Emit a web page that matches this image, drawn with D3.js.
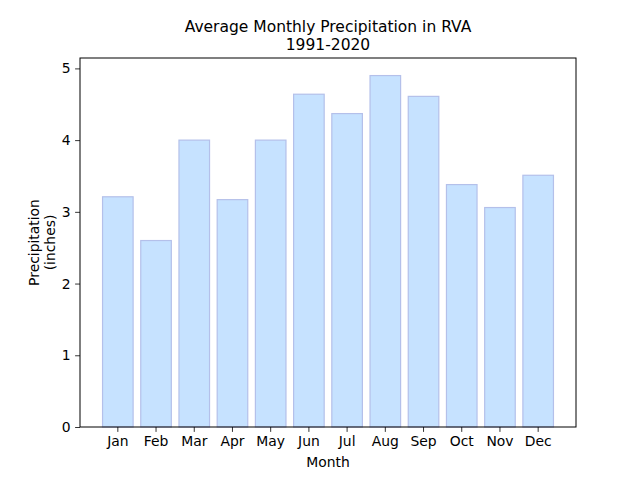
<!DOCTYPE html>
<html>
<head>
<meta charset="utf-8">
<script src="https://cdn.jsdelivr.net/npm/d3@7"></script>
<style>
  body { margin: 0; background: #fff; }
  text { font-family: "DejaVu Sans", sans-serif; fill: #000; }
</style>
</head>
<body>
<div id="chart"></div>
<script>
// Data
const months = ["Jan", "Feb", "Mar", "Apr", "May", "Jun", "Jul", "Aug", "Sep", "Oct", "Nov", "Dec"];
const precip = [3.21, 2.60, 4.00, 3.17, 4.00, 4.64, 4.37, 4.90, 4.61, 3.38, 3.06, 3.51];
const yTicks = [0, 1, 2, 3, 4, 5];

let margin = {top: 58, right: 64, bottom: 53, left: 80},
    width = 640 - margin.left - margin.right,
    height = 480 - margin.top - margin.bottom;

const svg = d3.select("#chart")
    .append("svg")
    .attr("width", 640)
    .attr("height", 480);

const g = svg.append("g")
    .attr("transform", `translate(${margin.left},${margin.top})`);

// matplotlib-style bar layout: width 0.8, 5% margins
const xScale = d3.scaleBand()
    .domain(months)
    .range([0, width])
    .paddingInner(0.2)
    .paddingOuter(0.59);

const yScale = d3.scaleLinear()
    .domain([0, d3.max(precip) * 1.05])
    .range([height, 0]);

// Bars
g.append("g")
    .selectAll("rect")
    .data(precip)
    .join("rect")
        .attr("x", (d, i) => xScale(months[i]))
        .attr("y", d => yScale(d))
        .attr("width", xScale.bandwidth())
        .attr("height", d => height - yScale(d))
        .attr("fill", "#c6e2ff")
        .attr("stroke", "#b4c0ea")
        .attr("stroke-width", 1.2);

// Axes
const xAxis = d3.axisBottom(xScale).tickSize(4.9).tickPadding(4.5).tickSizeOuter(0);
const yAxis = d3.axisLeft(yScale).tickValues(yTicks).tickFormat(d3.format("d"))
    .tickSize(4.9).tickPadding(4.5).tickSizeOuter(0);

g.append("g")
    .attr("class", "x-axis")
    .attr("transform", `translate(0, ${height})`)
    .call(xAxis);

g.append("g")
    .attr("class", "y-axis")
    .call(yAxis);

g.selectAll(".x-axis path, .y-axis path").remove();
g.selectAll(".tick line").attr("stroke", "#000").attr("stroke-width", 0.8);
g.selectAll(".tick text")
    .attr("font-family", "DejaVu Sans, sans-serif")
    .attr("font-size", 13.9)
    .attr("fill", "#000");

// Frame
g.append("rect")
    .attr("x", 0).attr("y", 0)
    .attr("width", width).attr("height", height)
    .attr("fill", "none")
    .attr("stroke", "#000")
    .attr("stroke-width", 1);

// Title (two lines)
svg.append("text")
    .attr("x", margin.left + width / 2)
    .attr("y", 31.5)
    .attr("text-anchor", "middle")
    .attr("font-size", 15.5)
    .text("Average Monthly Precipitation in RVA");
svg.append("text")
    .attr("x", margin.left + width / 2)
    .attr("y", 49.5)
    .attr("text-anchor", "middle")
    .attr("font-size", 15.5)
    .text("1991-2020");

// X label
svg.append("text")
    .attr("x", margin.left + width / 2)
    .attr("y", 467)
    .attr("text-anchor", "middle")
    .attr("font-size", 13.9)
    .text("Month");

// Y label (two lines)
const yLab = svg.append("text")
    .attr("transform", `translate(39, ${margin.top + height / 2}) rotate(-90)`)
    .attr("text-anchor", "middle")
    .attr("font-size", 13.9);
yLab.append("tspan").attr("x", 0).attr("dy", 0).text("Precipitation");
yLab.append("tspan").attr("x", 0).attr("dy", 16).text("(inches)");
</script>
</body>
</html>
